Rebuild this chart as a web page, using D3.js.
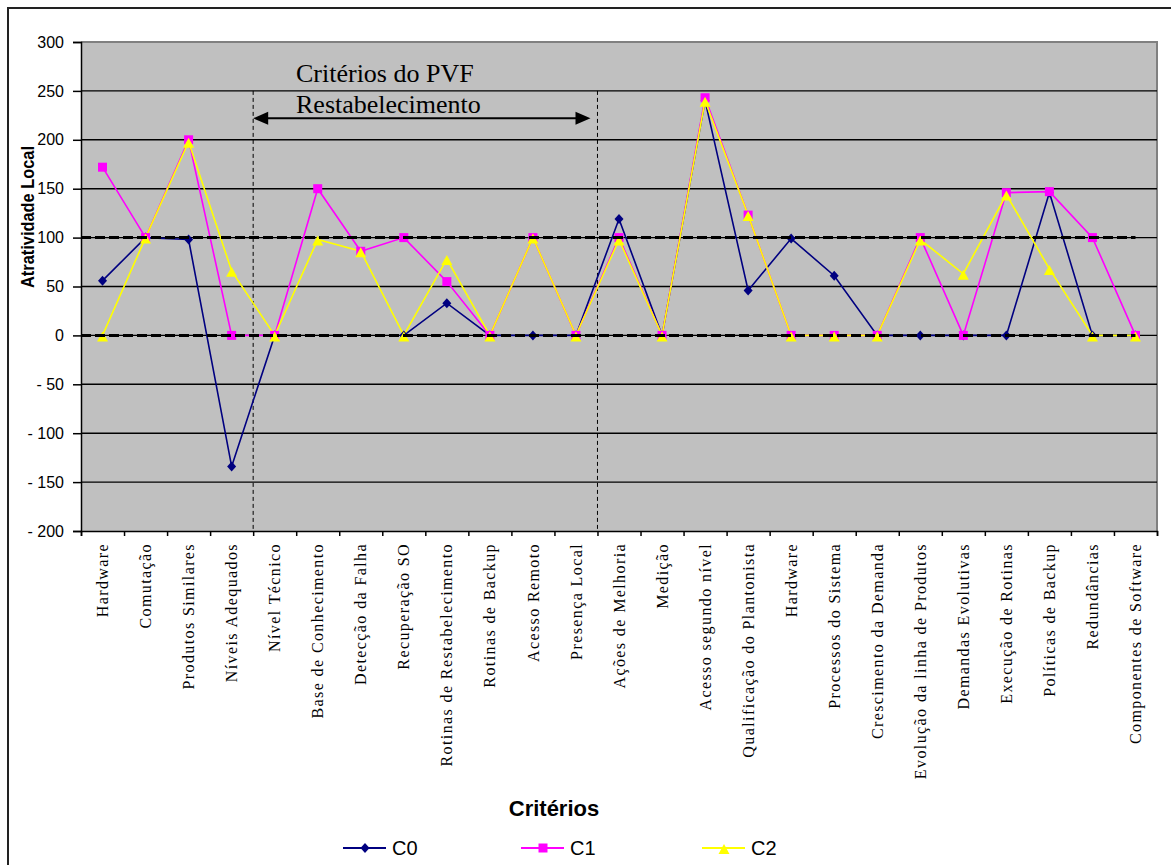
<!DOCTYPE html>
<html><head><meta charset="utf-8">
<script src="https://cdn.jsdelivr.net/npm/d3@7"></script>
<style>body{margin:0;background:#fff}</style>
</head><body>
<svg id="c" width="1171" height="865"></svg>
<script>
const categories = ["Hardware","Comutação","Produtos Similares","Níveis Adequados","Nível Técnico","Base de Conhecimento","Detecção da Falha","Recuperação SO","Rotinas de Restabelecimento","Rotinas de Backup","Acesso Remoto","Presença Local","Ações de Melhoria","Medição","Acesso segundo nível","Qualificação do Plantonista","Hardware","Processos do Sistema","Crescimento da Demanda","Evolução da linha de Produtos","Demandas Evolutivas","Execução de Rotinas","Políticas de Backup","Redundâncias","Componentes de Software"];
const c0 = [56,100,98,-134,0,null,null,0,33,0,0,0,119,0,240,46,99,61,0,0,0,0,146,0,0];
const c1 = [172,100,200,0,0,150,86,100,55,0,100,0,100,0,243,123,0,0,0,100,0,146,147,100,0];
const c2 = [0,100,198,66,0,98,86,0,78,0,100,0,98,0,240,123,0,0,0,98,63,144,68,0,0];
const seriesNames = ["C0","C1","C2"];
const seriesColors = ["#000080","#FF00FF","#FFFF00"];
const yTicks = [300,250,200,150,100,50,0,-50,-100,-150,-200];
const yTickLabels = ["300","250","200","150","100","50","0","- 50","- 100","- 150","- 200"];
const refLines = [0,100];
const regionBounds = [4,12];
const annotationLines = ["Critérios do PVF","Restabelecimento"];
const yTitle = "Atratividade Local";
const xTitle = "Critérios";

const svg = d3.select("#c");
const L = 81, R = 1157, T = 42, B = 531;
const x = d3.scaleBand().domain(d3.range(categories.length)).range([L, R]).padding(0);
const xB = d3.scaleLinear().domain([0, categories.length]).range([L, R]);
const y = d3.scaleLinear().domain([-200, 300]).range([B, T]);
const cx = i => x(i) + x.bandwidth() / 2;

svg.append("rect").attr("width",1171).attr("height",865).attr("fill","#fff");
svg.append("path").attr("d","M8,865V8H1171").attr("fill","none").attr("stroke","#222").attr("stroke-width",2);

// plot area
svg.append("rect").attr("x",L).attr("y",T).attr("width",R-L).attr("height",B-T).attr("fill","#C0C0C0");
svg.append("path").attr("d",`M${L},${T}H${R}V${B}`).attr("fill","none").attr("stroke","#808080").attr("stroke-width",2);

// gridlines
svg.append("g").selectAll("line").data(yTicks.filter(v => v < 300 && v > -200)).join("line")
  .attr("x1",L).attr("x2",R).attr("y1",d=>y(d)).attr("y2",d=>y(d))
  .attr("stroke","#000").attr("stroke-width",1.4);

// y axis
const ya = svg.append("g").attr("transform",`translate(${L},0)`)
  .call(d3.axisLeft(y).tickValues(yTicks).tickSize(8).tickPadding(9).tickFormat((d,i)=>yTickLabels[i]));
ya.select(".domain").attr("stroke","#000").attr("stroke-width",1.5);
ya.selectAll(".tick line").attr("stroke","#000").attr("stroke-width",1.5);
ya.selectAll("text").attr("font-family","Liberation Sans, Arial, sans-serif").attr("font-size",16).attr("fill","#000");

// x axis: boundary ticks
const xa = svg.append("g").attr("transform",`translate(0,${B})`)
  .call(d3.axisBottom(xB).tickValues(d3.range(categories.length+1)).tickSize(5).tickFormat(""));
xa.select(".domain").attr("stroke","#000").attr("stroke-width",1.5);
xa.selectAll(".tick line").attr("stroke","#000").attr("stroke-width",1.5);
// labels
const xl = svg.append("g").attr("transform",`translate(0,${B})`)
  .call(d3.axisBottom(x).tickSize(0).tickFormat(i=>categories[i]));
xl.select(".domain").remove();
xl.selectAll("text")
  .attr("font-family","Liberation Serif, Times New Roman, serif").attr("font-size",16)
  .attr("letter-spacing","1.4px").attr("fill","#000")
  .attr("text-anchor","end").attr("transform","rotate(-90)")
  .attr("x",-12).attr("y",0).attr("dy","0.35em");

// vertical dashed region bounds
svg.append("g").selectAll("line").data(regionBounds).join("line")
  .attr("x1",d=>xB(d)).attr("x2",d=>xB(d)).attr("y1",y(250)).attr("y2",B)
  .attr("stroke","#000").attr("stroke-width",1).attr("stroke-dasharray","4,3");

// series
const line = d3.line().defined(d=>d!==null).x((d,i)=>cx(i)).y(d=>y(d));
const allSeries = [c0,c1,c2];
allSeries.forEach((s,k)=>{
  svg.append("path").datum(s).attr("d",line).attr("fill","none")
    .attr("stroke",seriesColors[k]).attr("stroke-width",1.6);
});
const markerPath = [
  "M0,-5L4.5,0L0,5L-4.5,0Z",
  "M-4.5,-4.5H4.5V4.5H-4.5Z",
  "M0,-4L5.5,6H-5.5Z"
];
allSeries.forEach((s,k)=>{
  svg.append("g").selectAll("path").data(s.map((v,i)=>({v,i})).filter(d=>d.v!==null)).join("path")
    .attr("transform",d=>`translate(${cx(d.i)},${y(d.v)})`)
    .attr("d",markerPath[k]).attr("fill",seriesColors[k]);
});

// reference dashed lines
svg.append("g").selectAll("line").data(refLines).join("line")
  .attr("x1",L).attr("x2",cx(categories.length-1)).attr("y1",d=>y(d)).attr("y2",d=>y(d))
  .attr("stroke","#000").attr("stroke-width",3).attr("stroke-dasharray","10,4");

// annotation arrow
const ay = y(222), ax1 = xB(regionBounds[0]), ax2 = xB(regionBounds[1]) - 7;
svg.append("line").attr("x1",ax1+12).attr("x2",ax2-12).attr("y1",ay).attr("y2",ay).attr("stroke","#000").attr("stroke-width",2);
svg.append("path").attr("d",`M${ax1},${ay}L${ax1+15},${ay-6.5}V${ay+6.5}Z`).attr("fill","#000");
svg.append("path").attr("d",`M${ax2},${ay}L${ax2-15},${ay-6.5}V${ay+6.5}Z`).attr("fill","#000");
svg.append("g").selectAll("text").data(annotationLines).join("text")
  .attr("x",296).attr("y",(d,i)=>82+i*31).text(d=>d)
  .attr("font-family","Liberation Serif, Times New Roman, serif").attr("font-size",26).attr("fill","#000");

// axis titles
svg.append("text").attr("transform","translate(34,217) rotate(-90)").attr("text-anchor","middle")
  .attr("font-family","Liberation Sans, Arial, sans-serif").attr("font-weight","bold").attr("font-size",19)
  .attr("textLength",142).attr("lengthAdjust","spacingAndGlyphs").text(yTitle);
svg.append("text").attr("x",554).attr("y",816).attr("text-anchor","middle")
  .attr("font-family","Liberation Sans, Arial, sans-serif").attr("font-weight","bold").attr("font-size",22)
  .text(xTitle);

// legend
const legX = [343,521,702];
const lg = svg.append("g").selectAll("g").data(seriesNames).join("g")
  .attr("transform",(d,i)=>`translate(${legX[i]},848)`);
lg.append("line").attr("x1",0).attr("x2",43).attr("stroke",(d,i)=>seriesColors[i]).attr("stroke-width",2);
lg.append("path").attr("transform","translate(22,0)").attr("d",(d,i)=>markerPath[i]).attr("fill",(d,i)=>seriesColors[i]);
lg.append("text").attr("x",49).attr("dy","0.35em").text(d=>d)
  .attr("font-family","Liberation Sans, Arial, sans-serif").attr("font-size",20).attr("fill","#000");
</script>
</body></html>
